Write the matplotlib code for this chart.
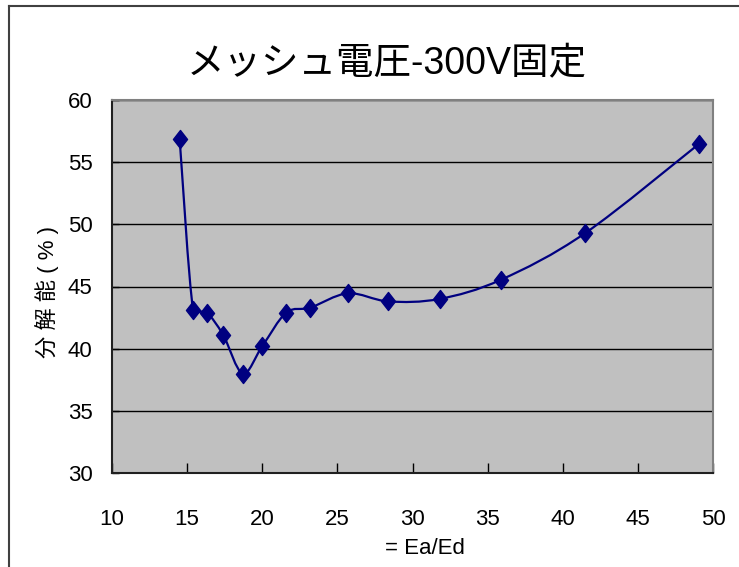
import numpy as np
import matplotlib
matplotlib.use("Agg")
import matplotlib.pyplot as plt
from matplotlib.path import Path
from matplotlib.patches import PathPatch
from matplotlib.lines import Line2D

plt.rcParams['font.family'] = ['Liberation Sans', 'Noto Sans CJK JP', 'DejaVu Sans']

# data
ea_ed = [14.5, 15.4, 16.3, 17.4, 18.7, 20.0, 21.6, 23.2, 25.7, 28.4, 31.8, 35.9, 41.5, 49.1]
resolution = [56.9, 43.1, 42.9, 41.1, 38.0, 40.2, 42.9, 43.3, 44.45, 43.8, 44.0, 45.55, 49.3, 56.5]

xticks = [10, 15, 20, 25, 30, 35, 40, 45, 50]
yticks = [30, 35, 40, 45, 50, 55, 60]

navy = '#000080'

fig = plt.figure(figsize=(7.39, 5.67), dpi=100, facecolor='white')
ax = fig.add_axes([112/739, 1 - 473/567, 601/739, 373/567])
ax.set_facecolor('#c0c0c0')
ax.set_xlim(10, 50)
ax.set_ylim(30, 60)

# excel-like smoothed line: cubic bezier through the points,
# control arms clamped so short segments don't loop
P = np.column_stack([ea_ed, resolution])
Pd = ax.transData.transform(P)
inv = ax.transData.inverted()
n = len(P)

def tangent(i):
    t = (Pd[min(i + 1, n - 1)] - Pd[max(i - 1, 0)]) / 6.0
    return t

def clamp(v, lim):
    m = np.hypot(*v)
    return v if m <= lim or m == 0 else v * lim / m

verts = [P[0]]
codes = [Path.MOVETO]
for i in range(n - 1):
    seg = np.hypot(*(Pd[i + 1] - Pd[i]))
    c1 = Pd[i] + clamp(tangent(i), 0.45 * seg)
    c2 = Pd[i + 1] - clamp(tangent(i + 1), 0.45 * seg)
    verts += [inv.transform(c1), inv.transform(c2), P[i + 1]]
    codes += [Path.CURVE4] * 3
ax.add_patch(PathPatch(Path(verts, codes), fill=False, edgecolor=navy, lw=1.6, zorder=3))

diamond = Path([(0, 1), (0.78, 0), (0, -1), (-0.78, 0), (0, 1)],
               [Path.MOVETO, Path.LINETO, Path.LINETO, Path.LINETO, Path.CLOSEPOLY])
ax.plot(ea_ed, resolution, linestyle='none', marker=diamond, markersize=13,
        color=navy, zorder=4)

ax.set_xticks(xticks)
ax.set_yticks(yticks)
ax.yaxis.grid(True, color='black', lw=1.0)
ax.set_axisbelow(True)
ax.tick_params(axis='x', direction='in', length=7, width=1, pad=26, labelsize=16, color='black')
ax.tick_params(axis='y', direction='in', length=5, width=1, pad=14, labelsize=16, color='black')

for s in ['top', 'right']:
    ax.spines[s].set_color('#808080')
    ax.spines[s].set_linewidth(1.5)
for s in ['left', 'bottom']:
    ax.spines[s].set_color('#202020')
    ax.spines[s].set_linewidth(1.5)

fig.text(387/739, 1 - 64/567, 'メッシュ電圧-300V固定', ha='center', va='center', fontsize=27)
fig.text(47/739, 1 - 292/567, '分 解 能 ( % )', rotation=90, ha='center', va='center', fontsize=16)
fig.text(425/739, 1 - 548/567, '= Ea/Ed', ha='center', va='center', fontsize=16)

# chart area frame (cut off at right/bottom)
fig.add_artist(Line2D([9/739, 9/739], [0, 1 - 6/567], color='#404040', lw=1.5))
fig.add_artist(Line2D([9/739, 1], [1 - 6/567, 1 - 6/567], color='#404040', lw=1.5))

fig.savefig('out.png', dpi=100, facecolor='white')
